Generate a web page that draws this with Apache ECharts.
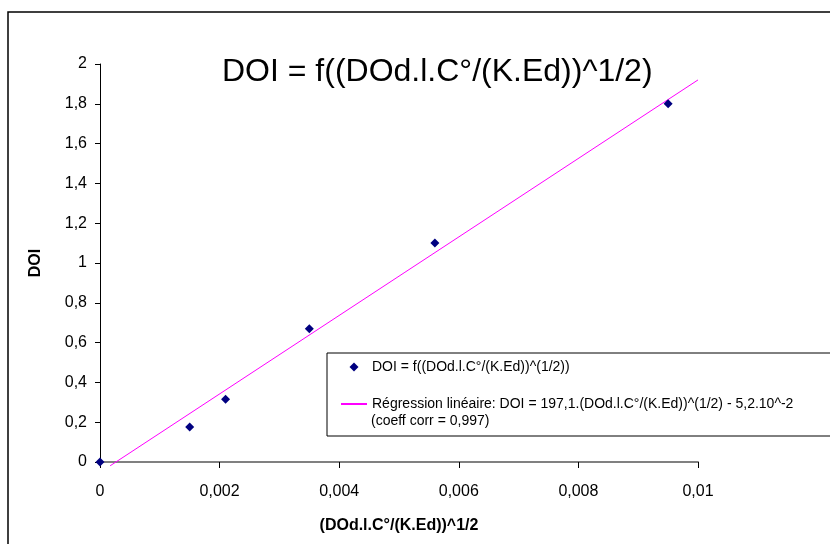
<!DOCTYPE html>
<html>
<head>
<meta charset="utf-8">
<script src="https://cdn.jsdelivr.net/npm/echarts@6/dist/echarts.min.js"></script>
<style>
  html, body { margin: 0; padding: 0; background: #fff; }
  #main { width: 830px; height: 544px; }
</style>
</head>
<body>
<div id="main"></div>
<script>
// mesures DOI en fonction de (DOd.l.C°/(K.Ed))^1/2
const xValues = [0, 0.0015, 0.0021, 0.0035, 0.0056, 0.0095];
const doiValues = [0, 0.176, 0.315, 0.67, 1.1, 1.8];
// droite de regression (extremites)
const regX = [0.00017, 0.01];
const regY = [-0.019, 1.92];
const xTicks = [0, 0.002, 0.004, 0.006, 0.008, 0.01];

const pointName = 'DOI = f((DOd.l.C°/(K.Ed))^(1/2))';
const regName = 'Régression linéaire: DOI = 197,1.(DOd.l.C°/(K.Ed))^(1/2) - 5,2.10^-2';
const font = 'Liberation Sans, Arial, sans-serif';

const fmt = v => String(+v.toFixed(4)).replace('.', ',');

// losange centre dans une case 26x8 (les M fixent la boite)
const diamondIcon = 'path://M0,0M26,9M13,0L17.5,4.5L13,9L8.5,4.5Z';

const myChart = echarts.init(document.getElementById('main'), null, { renderer: 'canvas' });
const option = {
  animation: false,
  backgroundColor: '#fff',
  textStyle: { fontFamily: font },
  title: {
    text: 'DOI = f((DOd.l.C°/(K.Ed))^1/2)',
    left: 217,
    top: 51,
    textStyle: { fontSize: 32, fontWeight: 'normal', color: '#000', fontFamily: font }
  },
  grid: { left: 100, right: 132, top: 64, bottom: 82 },
  xAxis: {
    type: 'value',
    min: 0,
    max: 0.01,
    interval: 0.002,
    name: '(DOd.l.C°/(K.Ed))^1/2',
    nameLocation: 'middle',
    nameGap: 56,
    nameTextStyle: { fontWeight: 'bold', fontSize: 16, color: '#000', fontFamily: font },
    axisLine: { lineStyle: { color: '#808080', width: 2 } },
    axisTick: { show: true, inside: false, length: 6, lineStyle: { color: '#000' } },
    axisLabel: { color: '#000', fontSize: 16, margin: 22, formatter: fmt },
    splitLine: { show: false }
  },
  yAxis: {
    type: 'value',
    min: 0,
    max: 2,
    interval: 0.2,
    name: 'DOI',
    nameLocation: 'middle',
    nameGap: 56,
    nameTextStyle: { fontWeight: 'bold', fontSize: 16, color: '#000', fontFamily: font },
    axisLine: { show: true, lineStyle: { color: '#000', width: 1 } },
    axisTick: { show: true, inside: false, length: 5, lineStyle: { color: '#000' } },
    axisLabel: { color: '#000', fontSize: 16, margin: 13, formatter: fmt },
    splitLine: { show: false }
  },
  legend: {
    orient: 'vertical',
    left: 327,
    top: 353,
    padding: [7, 400, 25, 13],
    itemGap: 23,
    itemWidth: 26,
    itemHeight: 9,
    backgroundColor: '#fff',
    borderColor: '#000',
    borderWidth: 1,
    borderRadius: 0,
    textStyle: { fontSize: 14, color: '#000', fontFamily: font },
    data: [
      { name: pointName, icon: diamondIcon, itemStyle: { opacity: 1 } },
      { name: regName, itemStyle: { opacity: 0 } }
    ]
  },
  graphic: [
    {
      type: 'rect',
      shape: { x: 8, y: 12, width: 900, height: 600 },
      style: { fill: 'none', stroke: '#000', lineWidth: 1.5 },
      silent: true,
      z: 100
    },
    {
      type: 'text',
      left: 371,
      top: 414,
      style: { text: '(coeff corr = 0,997)', fill: '#000', font: '14px ' + font },
      z: 100
    }
  ],
  series: [
    {
      name: regName,
      type: 'line',
      data: regX.map((x, i) => [x, regY[i]]),
      symbol: 'none',
      clip: false,
      lineStyle: { color: '#ff00ff', width: 1 },
      itemStyle: { color: '#ff00ff' },
      z: 2
    },
    {
      name: pointName,
      type: 'scatter',
      data: xValues.map((x, i) => [x, doiValues[i]]),
      symbol: 'diamond',
      symbolSize: 9,
      clip: false,
      itemStyle: { color: '#000080', opacity: 1 },
      z: 3
    }
  ]
};
myChart.setOption(option);
window.addEventListener('resize', () => myChart.resize());
</script>
</body>
</html>
